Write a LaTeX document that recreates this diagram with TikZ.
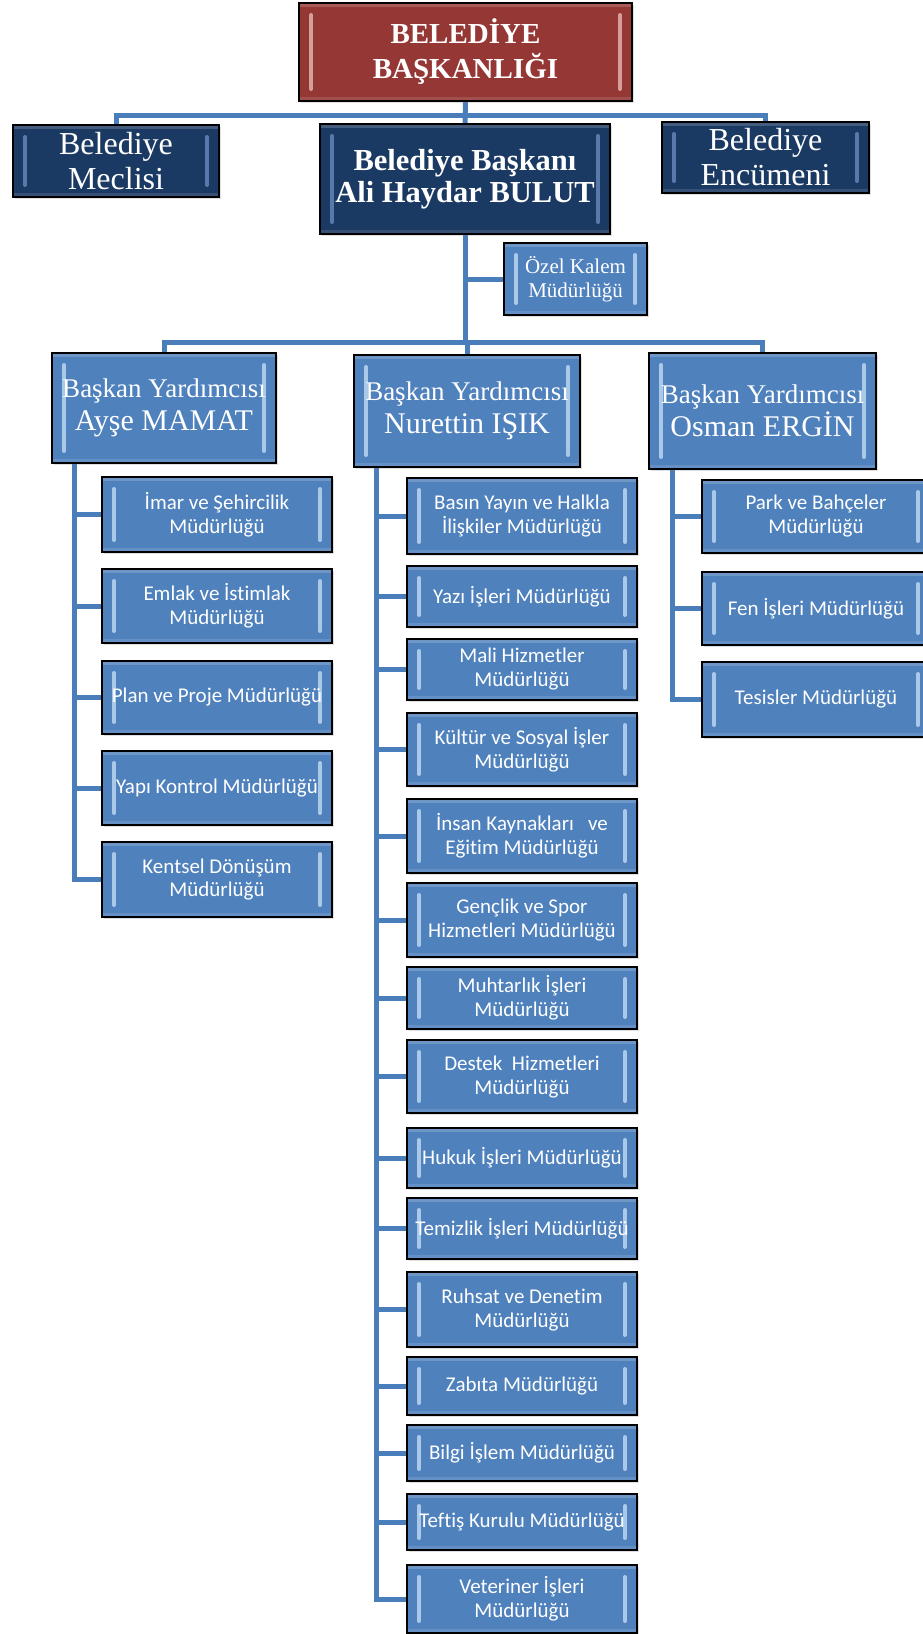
\documentclass[tikz,border=0pt]{standalone}
\usepackage{fontspec}
\setmainfont{Liberation Serif}
\newfontfamily\calfont[Ligatures=NoCommon]{Carlito}
\usetikzlibrary{shadows,backgrounds}

\definecolor{boxblue}{HTML}{4F81BD}
\definecolor{linkblue}{HTML}{4A7EBB}
\definecolor{navy}{HTML}{1B3A63}
\definecolor{brick}{HTML}{953735}
\definecolor{glowblue}{HTML}{C9E2F8}
\definecolor{glownavy}{HTML}{6D8FC2}
\definecolor{glowred}{HTML}{EBC0BF}

\tikzset{
  bevel/.style={path picture={
    \draw[#1, opacity=.75, line width=4pt, line cap=round]
      ([shift={(12pt,-12pt)}]path picture bounding box.north west) --
      ([shift={(12pt,12pt)}]path picture bounding box.south west);
    \draw[#1, opacity=.75, line width=4pt, line cap=round]
      ([shift={(-12pt,-12pt)}]path picture bounding box.north east) --
      ([shift={(-12pt,12pt)}]path picture bounding box.south east);
    \fill[white, opacity=.18] (path picture bounding box.north west)
      rectangle ([yshift=-4pt]path picture bounding box.north east);
    \fill[white, opacity=.12] (path picture bounding box.south west)
      rectangle ([yshift=4pt]path picture bounding box.south east);
  }},
}

\begin{document}
\begin{tikzpicture}[
    x=1pt, y=-1pt,
    box/.style={draw=black, line width=1.5pt, text=white, align=center, inner sep=0pt,
      drop shadow={shadow xshift=2pt, shadow yshift=-2pt, opacity=.25}},
    head/.style={box, fill=brick, bevel=glowred, font=\bfseries\fontsize{29}{35}\selectfont},
    board/.style={box, fill=navy, bevel=glownavy, font=\fontsize{32}{35}\selectfont},
    mayor/.style={box, fill=navy, bevel=glownavy, font=\bfseries\fontsize{30.5}{32}\selectfont},
    deputy/.style={box, fill=boxblue, bevel=glowblue, font=\fontsize{27}{33}\selectfont},
    dept/.style={box, fill=boxblue, bevel=glowblue, font=\calfont\fontsize{21}{24}\selectfont},
    link/.style={draw=linkblue, line width=5pt},
    ]
    \useasboundingbox (0,0) rectangle (923,1634);

    % Top levels
    \node[head, minimum width=333pt, minimum height=98pt] (top) at (465.5,52) {BELEDİYE\\BAŞKANLIĞI};
    \node[board, minimum width=206pt, minimum height=72pt] (meclis) at (116,161) {Belediye\\Meclisi};
    \node[mayor, minimum width=290pt, minimum height=110pt] (bk) at (465,179) {Belediye Başkanı\\Ali Haydar BULUT};
    \node[board, minimum width=207pt, minimum height=71pt] (encumen) at (765.5,157.5) {Belediye\\Encümeni};
    \node[box, fill=boxblue, bevel=glowblue, font=\fontsize{21}{24}\selectfont,
          minimum width=143pt, minimum height=72pt] (ozel) at (575.5,279) {Özel Kalem\\Müdürlüğü};

    % Deputies
    \node[deputy, minimum width=224pt, minimum height=110pt] (vp1) at (164,408)
        {Başkan Yardımcısı\\{\fontsize{30}{34}\selectfont Ayşe MAMAT}};
    \node[deputy, minimum width=226pt, minimum height=112pt] (vp2) at (467,411)
        {Başkan Yardımcısı\\{\fontsize{30}{34}\selectfont Nurettin IŞIK}};
    \node[deputy, minimum width=227pt, minimum height=116pt] (vp3) at (762.5,411)
        {Başkan Yardımcısı\\{\fontsize{30}{34}\selectfont Osman ERGİN}};

    % Units
    \foreach \n/\yy/\hh/\txt in {
        1/514.5/75/{İmar ve Şehircilik\\Müdürlüğü},
        2/606/74/{Emlak ve İstimlak\\Müdürlüğü},
        3/697.5/73/{Plan ve Proje Müdürlüğü},
        4/788/74/{Yapı Kontrol Müdürlüğü},
        5/879.5/75/{Kentsel Dönüşüm\\Müdürlüğü}}
        \node[dept, minimum width=230pt, minimum height=\hh pt] (a\n) at (217,\yy) {\txt};

    \foreach \n/\yy/\hh/\txt in {
        1/516/76/{Basın Yayın ve Halkla\\İlişkiler Müdürlüğü},
        2/596.5/61/{Yazı İşleri Müdürlüğü},
        3/669.5/61/{Mali Hizmetler\\Müdürlüğü},
        4/749.5/73/{Kültür ve Sosyal İşler\\Müdürlüğü},
        5/836/74/{İnsan Kaynakları\ \ \ ve\\Eğitim Müdürlüğü},
        6/920/74/{Gençlik ve Spor\\Hizmetleri Müdürlüğü},
        7/998/62/{Muhtarlık İşleri\\Müdürlüğü},
        8/1076.5/73/{Destek\ \ Hizmetleri\\Müdürlüğü},
        9/1158/60/{Hukuk İşleri Müdürlüğü},
        10/1228.5/61/{Temizlik İşleri Müdürlüğü},
        11/1309.5/75/{Ruhsat ve Denetim\\Müdürlüğü},
        12/1386/58/{Zabıta Müdürlüğü},
        13/1453/56/{Bilgi İşlem Müdürlüğü},
        14/1522/56/{Teftiş Kurulu Müdürlüğü},
        15/1599/68/{Veteriner İşleri\\Müdürlüğü}}
        \node[dept, minimum width=230pt, minimum height=\hh pt] (b\n) at (522,\yy) {\txt};

    \foreach \n/\yy/\hh/\txt in {
        1/516.5/73/{Park ve Bahçeler\\Müdürlüğü},
        2/608.5/73/{Fen İşleri Müdürlüğü},
        3/699.5/75/{Tesisler Müdürlüğü}}
        \node[dept, minimum width=228pt, minimum height=\hh pt] (c\n) at (816,\yy) {\txt};

    % Lines
    \begin{scope}[on background layer]
        \coordinate (bar1) at ([yshift=-14pt]top.south);
        \coordinate (bar2) at ([yshift=-108pt]bk.south);
        \draw[link] (top.south) -- (bk.north);
        \draw[link] (bar1) -| (meclis.north);
        \draw[link] (bar1) -| (encumen.north);
        \draw[link] (bk.south) -- (bar2);
        \draw[link] (bk.south |- ozel.west) -- (ozel.west);
        \foreach \v in {1,2,3}
            \draw[link] (bar2) -| (vp\v.north);

        \foreach \n in {1,...,5}
            \draw[link] ([xshift=23pt]vp1.south west) |- (a\n.west);
        \foreach \n in {1,...,15}
            \draw[link] ([xshift=23pt]vp2.south west) |- (b\n.west);
        \foreach \n in {1,2,3}
            \draw[link] ([xshift=24pt]vp3.south west) |- (c\n.west);
    \end{scope}
\end{tikzpicture}
\end{document}
